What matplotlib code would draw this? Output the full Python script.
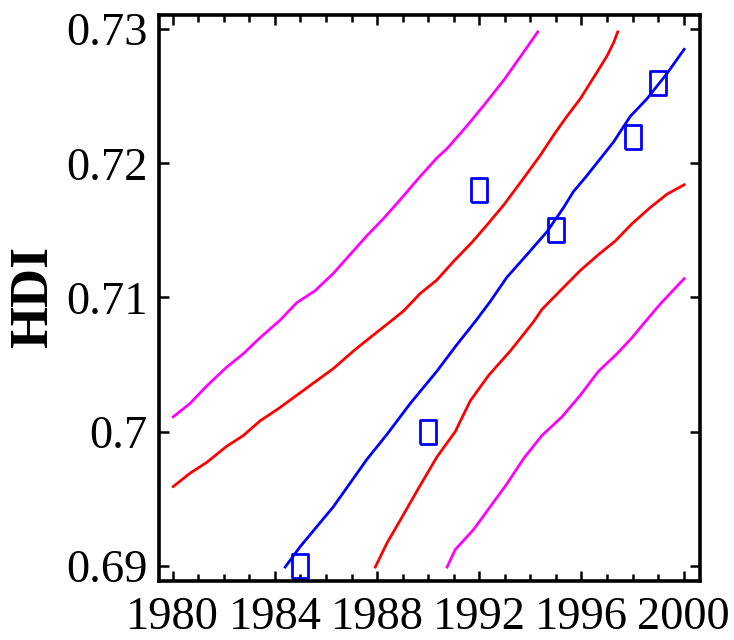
import matplotlib
matplotlib.use("Agg")
import matplotlib.pyplot as plt
from matplotlib.ticker import MultipleLocator, FixedLocator

# observed HDI values
obs_year = [1985, 1990, 1992, 1995, 1998, 1999]
obs_hdi = [0.690, 0.700, 0.718, 0.715, 0.722, 0.726]

# central fit (blue)
fit_year = [1984.40, 1984.98, 1986.29, 1987.59, 1988.39, 1989.30, 1990.34, 1991.13,
            1991.84, 1992.43, 1993.08, 1993.87, 1994.65, 1995.30, 1995.69, 1996.22,
            1997.26, 1997.91, 1998.56, 1999.35, 2000.02]
fit_hdi = [0.6899, 0.6914, 0.6944, 0.6979, 0.6998, 0.7021, 0.7045, 0.7065,
           0.7082, 0.7097, 0.7115, 0.7132, 0.7149, 0.7167, 0.7179, 0.7191,
           0.7216, 0.7235, 0.7248, 0.7267, 0.7285]

# inner band (red)
up1_year = [1980.02, 1980.68, 1981.33, 1982.11, 1982.76, 1983.42, 1984.13, 1984.85,
            1985.64, 1986.29, 1987.07, 1987.59, 1988.52, 1989.04, 1989.69, 1990.34,
            1991.00, 1991.71, 1992.30, 1992.96, 1993.74, 1994.39, 1994.91, 1995.43,
            1995.95, 1996.61, 1997.00, 1997.26, 1997.42]
up1_hdi = [0.6959, 0.6969, 0.6977, 0.6989, 0.6997, 0.7008, 0.7017, 0.7027,
           0.7038, 0.7047, 0.7060, 0.7068, 0.7082, 0.7090, 0.7103, 0.7113,
           0.7127, 0.7141, 0.7154, 0.7169, 0.7189, 0.7206, 0.7221, 0.7235,
           0.7248, 0.7268, 0.7280, 0.7290, 0.7298]
lo1_year = [1987.93, 1988.39, 1988.97, 1989.63, 1990.34, 1991.06, 1991.65, 1992.37,
            1993.21, 1994.13, 1994.45, 1995.17, 1995.95, 1996.67, 1997.32, 1997.98,
            1998.69, 1999.35, 2000.02]
lo1_hdi = [0.6899, 0.6917, 0.6936, 0.6958, 0.6981, 0.7000, 0.7023, 0.7042,
           0.7060, 0.7082, 0.7091, 0.7105, 0.7120, 0.7132, 0.7142, 0.7155,
           0.7167, 0.7177, 0.7184]

# outer band (magenta)
up2_year = [1980.02, 1980.68, 1981.33, 1982.11, 1982.76, 1983.42, 1984.20, 1984.85,
            1985.57, 1986.29, 1987.60, 1988.26, 1988.91, 1989.63, 1990.34, 1990.74,
            1991.52, 1992.17, 1992.96, 1993.74, 1994.29]
up2_hdi = [0.7011, 0.7021, 0.7034, 0.7048, 0.7058, 0.7070, 0.7083, 0.7096,
           0.7105, 0.7118, 0.7146, 0.7159, 0.7173, 0.7189, 0.7204, 0.7211,
           0.7228, 0.7243, 0.7262, 0.7283, 0.7298]
lo2_year = [1990.74, 1991.06, 1991.78, 1992.43, 1993.08, 1993.74, 1994.45, 1995.24,
            1995.95, 1996.67, 1997.39, 1997.98, 1998.50, 1999.08, 2000.02]
lo2_hdi = [0.6899, 0.6912, 0.6927, 0.6944, 0.6961, 0.6980, 0.6997, 0.7011,
           0.7027, 0.7045, 0.7058, 0.7070, 0.7082, 0.7095, 0.7114]

x_ticks = [1980, 1984, 1988, 1992, 1996, 2000]
y_ticks = [0.69, 0.70, 0.71, 0.72, 0.73]
y_tick_labels = ["0.69", "0.7", "0.71", "0.72", "0.73"]

plt.rcParams["font.family"] = ["Liberation Serif", "DejaVu Serif"]

fig = plt.figure(figsize=(7.34, 6.4), dpi=100)
ax = fig.add_axes([0.2162, 0.0922, 0.9533 - 0.2162, 0.977 - 0.0922])

lw = 2.0
ax.plot(up2_year, up2_hdi, color="#FF00FF", lw=lw)
ax.plot(lo2_year, lo2_hdi, color="#FF00FF", lw=lw)
ax.plot(up1_year, up1_hdi, color="#FF0000", lw=lw)
ax.plot(lo1_year, lo1_hdi, color="#FF0000", lw=lw)
ax.plot(fit_year, fit_hdi, color="#0000FF", lw=lw)

# tall open rectangle marker
w, h = 0.32, 0.5
rect = [(-w, -h), (w, -h), (w, h), (-w, h), (-w, -h)]
ax.plot(obs_year, obs_hdi, linestyle="none", marker=rect, markersize=17.5,
        markerfacecolor="none", markeredgecolor="#0000FF", markeredgewidth=2.0,
        clip_on=False)

ax.set_xlim(1979.45, 2000.63)
ax.set_ylim(0.68886, 0.73108)

ax.xaxis.set_major_locator(FixedLocator(x_ticks))
ax.xaxis.set_minor_locator(MultipleLocator(1))
ax.yaxis.set_major_locator(FixedLocator(y_ticks))
ax.set_yticklabels(y_tick_labels)

ax.tick_params(which="both", direction="in", top=True, right=True,
               labelsize=33.5, width=1.8, color="black")
ax.tick_params(which="major", length=7.5)
ax.tick_params(which="minor", length=5)
ax.tick_params(axis="x", pad=11)
ax.tick_params(axis="y", pad=8)

for s in ax.spines.values():
    s.set_linewidth(2.6)

ax.set_ylabel("HDI", fontsize=39, fontweight="bold")
ax.yaxis.set_label_coords(-0.184, 0.5015)

fig.savefig("out.png", dpi=100)
